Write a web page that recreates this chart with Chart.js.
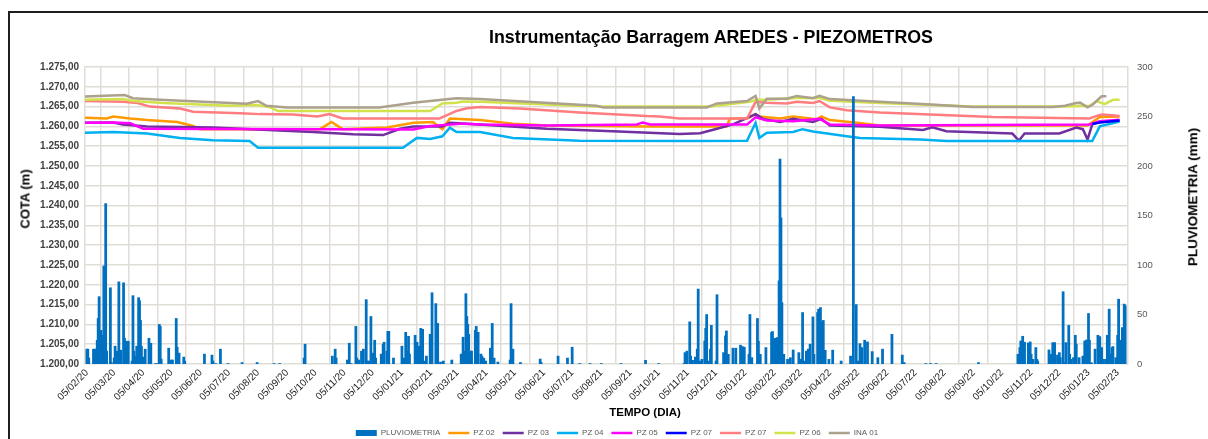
<!DOCTYPE html>
<html><head><meta charset="utf-8">
<script src="https://cdn.jsdelivr.net/npm/chart.js@4.4.1/dist/chart.umd.min.js"></script>
<style>
html,body{margin:0;padding:0;background:#fff;}
#wrap{position:relative;width:1208px;height:439px;overflow:hidden;font-family:Arial,"Liberation Sans",sans-serif;}
#frame{position:absolute;left:8px;top:11px;width:1400px;height:600px;border:2px solid #1e1e1e;}
canvas{position:absolute;left:0;top:0;}
.t{position:absolute;white-space:nowrap;font-weight:bold;color:#000;line-height:1;}
</style></head>
<body><div id="wrap"><div id="frame"></div>
<canvas id="c" width="1208" height="447"></canvas>
<div class="t" style="left:711px;top:29px;font-size:17.8px;transform:translateX(-50%)">Instrumentação Barragem AREDES - PIEZOMETROS</div>
<div class="t" style="left:645px;top:407px;font-size:11.5px;transform:translateX(-50%)">TEMPO (DIA)</div>
<div class="t" style="left:25px;top:199px;font-size:13px;transform:translate(-50%,-50%) rotate(-90deg)">COTA (m)</div>
<div class="t" style="left:1193px;top:197px;font-size:13.5px;transform:translate(-50%,-50%) rotate(-90deg)">PLUVIOMETRIA (mm)</div>
</div>
<script>
// X tick labels (day 0 = 05/02/20)
const tickLabels = ["05/02/20","05/03/20","05/04/20","05/05/20","05/06/20","05/07/20","05/08/20","05/09/20","05/10/20","05/11/20","05/12/20",
"05/01/21","05/02/21","05/03/21","05/04/21","05/05/21","05/06/21","05/07/21","05/08/21","05/09/21","05/10/21","05/11/21","05/12/21",
"05/01/22","05/02/22","05/03/22","05/04/22","05/05/22","05/06/22","05/07/22","05/08/22","05/09/22","05/10/22","05/11/22","05/12/22",
"05/01/23","05/02/23"];

// Pluviometria (mm): day offsets and values
const rainDays = [0,1,2,7,9,10,11,12,13,14,15,16,17,18,20,21,25,26,29,30,32,34,35,36,39,40,42,44,48,49,50,51,53,55,56,57,58,60,62,66,68,73,75,77,78,79,87,88,90,91,95,96,98,103,104,125,133,134,137,142,150,165,181,199,205,231,232,261,264,265,277,279,281,286,287,289,292,294,297,298,300,302,304,306,307,313,315,316,319,320,321,326,335,337,339,340,342,343,349,351,353,355,357,359,361,365,366,367,371,373,376,379,388,398,400,401,403,404,405,406,408,409,413,414,416,419,420,422,424,429,431,433,437,450,451,453,461,482,483,501,511,516,524,535,
547,568,594,608,635,636,638,641,642,644,647,649,650,652,654,657,658,659,660,663,664,669,670,677,678,679,680,682,687,690,695,697,699,704,705,707,713,714,716,722,728,729,731,732,734,736,737,738,739,741,745,748,751,757,759,761,763,765,767,769,772,773,777,778,780,781,783,785,789,793,802,812,815,818,820,822,824,827,830,835,841,846,856,867,869,892,897,903,948,990,992,993,995,997,1001,1003,1004,1006,1009,1010,1011,1023,1025,1027,1029,1032,1034,1035,1038,1039,1041,1044,1045,1046,1049,1051,1052,1055,1059,1061,1063,1065,1066,1068,1072,1075,1077,1079,1081,1084,1085,1087,1088,1090,1091,1094,1096,1097,1099,1101,1103,1104];
const rainMm = [15,15,6,15,15,15,24,46,68,14,34,29,27,99,162,13,77,1.5,6,18,13,83,7,14,82,26,23,23,3,69,13,8,18,67,64,44,18,7,15,26,21,0.5,0.5,40,38,5,16,3,4,4,46,17,11,7,3,10,9,3,0.5,15,0.5,1.5,1.5,0.5,0.5,6,20,8,15,6,4,21,0.5,38,6,4,13,15,65,3,3,48,11,24,6,10,20,22,13,33,33,6,18,6,32,13,28,10,29,22,18,36,35,3,8,30,13,72,61,41,2,3,4,10,27,13,71,48,40,30,13,13,34,38,32,10,8,6,3,16,41,6,2,4,61,15,1.5,5,1.5,8,6,17,0.5,0.5,
0.5,0.5,3.7,0.5,0.5,11.5,13,42.6,8,3.7,7,15,75.7,3,4.7,23.3,36,50,3,15,39,3,70,11.5,8,28.4,33.4,9.8,16,16,19,17.6,17,9.8,50,6.4,46,23,9.8,16.6,31.8,32.8,25,26,26.7,84,207,147.6,62,9.8,4.7,6.4,14.2,11.5,4.7,52,3,13,15,20,47.6,9.8,52,55.4,57,42,44,13.8,4.7,14,3,8,270,60,3,20.6,16.6,24,22.3,12.5,6.4,15,30,9,1.4,0.5,0.5,0.5,1.4,9.8,16.6,23.3,28,22,21.3,22.3,9.8,4.7,16.6,4.7,3,14.2,9.8,21.6,21.6,9,11.5,6.4,73,1.4,21.6,39,9.8,4.7,6.4,29,20,6.4,8,23.3,24.3,51,24,1.4,15,29,27.7,16.6,4.7,4.7,29,55.4,9.8,16.6,17.6,6.4,29,65.5,24,36.8,60.5,58.8];

// Piezometers (cota, m)
const pz02Days = [-2,21,28,46,64,96,113,120,248,260,272,319,347,368,378,386,418,453,489,595,680,684,702,711,715,737,751,776,781,790,819,843,1064,1077,1098];
const pz02Vals = [1262.2,1262.0,1262.5,1262.0,1261.6,1261.1,1260.1,1259.3,1259.3,1261.1,1259.3,1259.7,1260.9,1261.1,1259.3,1262.0,1261.6,1260.7,1260.2,1260.0,1260.0,1262.0,1262.0,1263.1,1262.5,1262.0,1262.5,1261.8,1262.5,1261.6,1260.9,1260.2,1260.2,1262.4,1262.5];
const pz03Days = [-2,28,38,64,134,240,283,315,333,347,378,386,418,489,559,630,652,665,687,711,719,737,751,772,781,790,843,889,899,914,984,991,997,1034,1052,1059,1064,1069,1077,1098];
const pz03Vals = [1260.9,1261.0,1260.5,1260.0,1259.7,1258.6,1258.0,1257.8,1259.4,1260.0,1260.0,1260.9,1260.5,1259.4,1258.8,1258.1,1258.3,1259.1,1260.5,1263.1,1261.9,1261.1,1261.9,1261.1,1261.9,1260.2,1259.9,1259.1,1259.8,1258.8,1258.2,1256.4,1258.2,1258.2,1259.7,1259.3,1256.7,1260.5,1261.2,1261.4];
const pz04Days = [-2,28,64,99,134,173,182,336,351,365,378,386,393,418,453,524,641,702,711,715,723,751,761,772,808,822,886,914,1069,1077,1098];
const pz04Vals = [1258.4,1258.6,1258.2,1257.1,1256.5,1256.3,1254.6,1254.6,1257.1,1256.8,1257.5,1259.7,1258.6,1258.6,1257.1,1256.4,1256.3,1256.4,1260.9,1257.1,1258.4,1258.6,1259.3,1258.7,1257.5,1257.1,1256.7,1256.3,1256.3,1260.0,1261.2];
const pz05Days = [-2,28,46,60,347,365,400,418,489,585,591,599,702,711,723,751,779,790,843,1066,1077,1098];
const pz05Vals = [1260.9,1261.0,1260.8,1259.4,1259.2,1260.1,1260.7,1260.5,1260.2,1260.5,1261.0,1260.5,1260.5,1262.3,1261.5,1261.3,1261.9,1260.5,1260.2,1260.5,1261.3,1261.7];
const pz07bDays = [1069,1077,1098];
const pz07bVals = [1260.6,1261.0,1261.5];
const pz07sDays = [-2,38,54,67,99,113,163,184,219,245,258,272,375,393,404,418,460,524,595,609,630,702,711,723,744,755,772,779,790,808,843,963,1066,1077,1080,1098];
const pz07sVals = [1266.4,1266.2,1265.9,1265.0,1264.5,1263.7,1263.3,1263.1,1263.0,1262.5,1263.1,1262.0,1262.0,1263.9,1264.6,1264.9,1264.5,1263.5,1262.6,1262.5,1262.0,1262.0,1266.2,1266.0,1265.8,1266.2,1265.9,1266.4,1264.8,1264.1,1263.5,1262.4,1262.0,1262.9,1263.0,1262.6];
const pz06Days = [-2,38,49,81,152,181,195,203,365,378,393,400,418,542,662,705,712,723,755,779,790,843,942,1034,1066,1074,1082,1091,1098];
const pz06Vals = [1266.7,1266.9,1266.4,1265.9,1265.2,1265.4,1264.8,1263.9,1263.9,1265.8,1266.0,1266.3,1266.2,1265.0,1265.0,1266.2,1266.7,1266.7,1267.2,1267.2,1266.5,1265.9,1265.0,1265.0,1265.2,1266.4,1265.6,1266.7,1266.7];
const ina01Days = [-2,40,49,78,170,182,191,213,311,347,393,418,542,549,659,670,702,711,715,723,744,755,772,779,790,843,893,942,1027,1040,1052,1056,1064,1069,1079,1084];
const ina01Vals = [1267.55,1267.9,1267.1,1266.7,1265.7,1266.4,1265.2,1264.8,1264.8,1266.0,1267.1,1266.9,1265.2,1264.8,1264.8,1265.8,1266.4,1267.7,1264.5,1267.0,1267.0,1267.7,1267.1,1267.7,1266.9,1266.2,1265.6,1264.9,1264.9,1265.2,1265.9,1266.0,1264.8,1265.4,1267.6,1267.6];

const base = Date.UTC(2020,1,5);
const tickDays = tickLabels.map(s => { const p = s.split('/').map(Number); return Math.round((Date.UTC(2000+p[2], p[1]-1, p[0]) - base)/86400000); });
const pts = (d, v) => d.map((x, i) => ({x: x, y: v[i]}));
const fmtBR = v => { const s = Number(v).toFixed(2).split('.'); return s[0].replace(/\B(?=(\d{3})+(?!\d))/g,'.') + ',' + s[1]; };

Chart.defaults.font.family = "Arial, 'Liberation Sans', sans-serif";
const gridColor = '#e0ddd6';

function lineDs(label, d, v, color, idx) {
  return {type:'line', label, data: pts(d, v), borderColor: color, backgroundColor: color, borderWidth: 2.5,
    pointRadius: 0, tension: 0, yAxisID: 'y', pointStyle: 'line', order: 20 - idx};
}

new Chart(document.getElementById('c'), {
  type: 'bar',
  data: { datasets: [
    {type:'bar', label:'PLUVIOMETRIA', data: pts(rainDays, rainMm), backgroundColor:'#0070C0', borderWidth:0,
      barThickness: 2.1, yAxisID:'y1', pointStyle:'rect', order: 0},
    lineDs('PZ 02', pz02Days, pz02Vals, '#FF9A00', 1),
    lineDs('PZ 03', pz03Days, pz03Vals, '#7030A0', 2),
    lineDs('PZ 04', pz04Days, pz04Vals, '#00B0F0', 3),
    lineDs('PZ 05', pz05Days, pz05Vals, '#FF00FF', 4),
    lineDs('PZ 07', pz07bDays, pz07bVals, '#0000FF', 5),
    lineDs('PZ 07', pz07sDays, pz07sVals, '#FF7C80', 6),
    lineDs('PZ 06', pz06Days, pz06Vals, '#D2E24A', 7),
    lineDs('INA 01', ina01Days, ina01Vals, '#ACA18D', 8)
  ]},
  options: {
    responsive: false, animation: false, devicePixelRatio: 1,
    layout: { padding: { left: 26, right: 0, top: 67, bottom: 0 } },
    plugins: {
      tooltip: {enabled: false},
      title: {display: false},
      legend: { position: 'bottom',
        labels: { usePointStyle: true, pointStyleWidth: 21, boxHeight: 6, padding: 8, color: '#595959',
          font: {size: 8}, sort: (a, b) => a.datasetIndex - b.datasetIndex } }
    },
    scales: {
      x: { type: 'linear', min: -2, max: 1107, offset: false,
        afterBuildTicks: s => { s.ticks = tickDays.map(v => ({value: v})); },
        afterFit: s => { s.height = 57; },
        ticks: { autoSkip: false, minRotation: 45, maxRotation: 45, padding: 3, color: '#1a1a1a', font: {size: 10},
          callback: (v, i) => tickLabels[i] },
        grid: { color: gridColor, lineWidth: 1.5, drawTicks: false },
        border: { display: false } },
      y: { position: 'left', min: 1200, max: 1275,
        afterFit: s => { s.width = 59; },
        ticks: { stepSize: 5, padding: 6, color: '#404040', font: {size: 10, weight: 'bold'}, callback: v => fmtBR(v) },
        grid: { color: gridColor, lineWidth: 1.5, drawTicks: false },
        border: { display: true, color: gridColor, width: 1.5 } },
      y1: { position: 'right', min: 0, max: 300,
        afterFit: s => { s.width = 80; },
        ticks: { stepSize: 50, padding: 9, color: '#595959', font: {size: 9.5} },
        grid: { display: false, drawTicks: false },
        border: { display: true, color: gridColor, width: 1.5 } }
    }
  }
});
</script>
</body></html>
